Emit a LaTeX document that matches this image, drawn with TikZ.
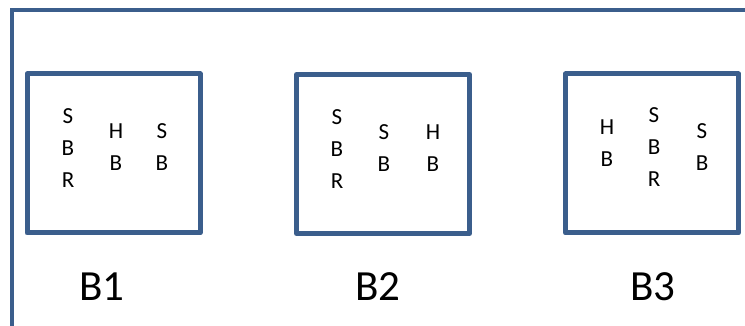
\documentclass[tikz,border=0pt]{standalone}
\usepackage{fontspec}
\setmainfont{Carlito}
\usepackage{tikz}
\usetikzlibrary{positioning}
\definecolor{baycolor}{RGB}{59,94,140}
\tikzset{
    frame/.style={draw=baycolor, line width=4pt},
    bay/.style={rectangle, draw=baycolor, line width=5pt, line join=round, minimum width=173pt, minimum height=159pt, inner sep=0pt},
    tag/.style={font=\fontsize{23}{32}\selectfont, align=center, inner sep=0pt},
    bayname/.style={font=\fontsize{43}{50}\selectfont, inner sep=0pt}
}
\begin{document}
\begin{tikzpicture}[x=1pt, y=-1pt]
    \useasboundingbox (0,0) rectangle (745,326);
    % outer frame
    \coordinate (fbot) at (12,330);
    \coordinate (fcorner) at (12,10);
    \coordinate (fright) at (750,10);
    \draw[frame] (fbot) -- (fcorner) -- (fright);

    % bays
    \node[bay] (b1) at (113.5,153.5) {};
    \node[bay] (b2) at (383,154) {};
    \node[bay] (b3) at (652,153.5) {};

    % contents of B1
    \node[tag] (b1sbr) at (68,148) {S\\B\\R};
    \node[tag] (b1hb) at (116,147.5) {H\\B};
    \node[tag] (b1sb) at (162,147.5) {S\\B};

    % contents of B2
    \node[tag] (b2sbr) at (337,149) {S\\B\\R};
    \node[tag] (b2sb) at (384,148.5) {S\\B};
    \node[tag] (b2hb) at (433,148.5) {H\\B};

    % contents of B3
    \node[tag] (b3hb) at (607,143.5) {H\\B};
    \node[tag] (b3sbr) at (654,147.5) {S\\B\\R};
    \node[tag] (b3sb) at (702,147.5) {S\\B};

    % names
    \node[bayname] (n1) at (102,287) {B1};
    \node[bayname] (n2) at (378,287) {B2};
    \node[bayname] (n3) at (653,287) {B3};
\end{tikzpicture}
\end{document}
